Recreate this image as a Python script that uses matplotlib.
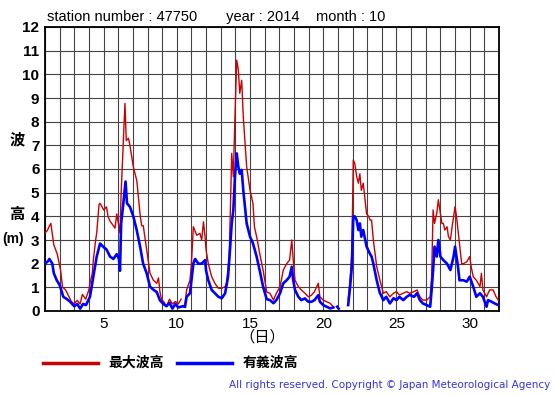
import matplotlib
matplotlib.use('Agg')
import matplotlib.pyplot as plt
import numpy as np

plt.rcParams['font.family'] = ['Liberation Sans', 'Noto Sans CJK JP', 'DejaVu Sans']

nan = np.nan

# max wave height (m); day of month as float
day_max = [1.0, 1.16, 1.3, 1.4, 1.6, 1.84, 2.07, 2.2, 2.4, 2.64, 2.8, 2.98, 3.2, 3.4, 3.55, 3.78,
           4.0, 4.07, 4.23, 4.3, 4.46, 4.53, 4.69, 4.76, 4.9, 5.0, 5.2, 5.3, 5.44, 5.67, 5.78, 5.9,
           6.12, 6.2, 6.35, 6.46, 6.55, 6.7, 6.8, 6.9, 7.03, 7.27, 7.38, 7.49, 7.6, 7.71, 7.94,
           8.05, 8.17, 8.4, 8.63, 8.75, 8.85, 8.95, 9.1, 9.3, 9.5, 9.7, 9.9, 10.1, 10.3, 10.4,
           10.56, 10.67, 10.9, 11.0, 11.13, 11.36, 11.58, 11.7, 11.82, 11.93, 12.0, 12.15, 12.38,
           12.6, 12.84, 13.07, 13.3, 13.4, 13.58, 13.75, 13.86, 13.97, 14.09, 14.2, 14.3, 14.43,
           14.54, 14.65, 14.77, 15.0, 15.2, 15.3, 15.45, 15.7, 15.9, 16.14, 16.36, 16.6, 16.8,
           17.05, 17.27, 17.5, 17.7, 17.85, 17.95, 18.07, 18.3, 18.5, 18.75, 18.98, 19.2, 19.4,
           19.66, 19.77, 20.0, 20.23, 20.46, 20.69, 20.8, 21.7, 21.83, 21.95, 22.05, 22.15, 22.28,
           22.4, 22.5, 22.6, 22.73, 22.96, 23.1, 23.2, 23.3, 23.42, 23.65, 23.87, 24.0, 24.1,
           24.3, 24.55, 24.8, 25.0, 25.2, 25.46, 25.7, 25.9, 26.2, 26.4, 26.6, 26.8, 27.06, 27.3,
           27.4, 27.5, 27.6, 27.75, 27.86, 28.0, 28.1, 28.2, 28.3, 28.45, 28.55, 28.68, 28.8,
           28.9, 29.0, 29.1, 29.2, 29.3, 29.45, 29.56, 29.8, 30.0, 30.1, 30.24, 30.45, 30.7,
           30.8, 30.9, 31.15, 31.36, 31.6, 31.8, 31.95]
wave_max = [3.3, 3.4, 3.6, 3.7, 2.8, 2.4, 1.7, 1.0, 0.9, 0.6, 0.4, 0.3, 0.45, 0.3, 0.7, 0.5,
            0.9, 1.17, 1.6, 2.15, 3.0, 3.3, 4.5, 4.55, 4.4, 4.27, 4.4, 4.0, 3.8, 3.6, 3.5, 4.1,
            3.3, 5.0, 7.2, 8.77, 7.2, 7.3, 7.0, 6.6, 6.1, 5.5, 4.8, 4.1, 3.6, 3.6, 2.6,
            2.15, 1.6, 1.3, 1.17, 1.4, 0.8, 0.5, 0.4, 0.2, 0.5, 0.3, 0.4, 0.3, 0.5, nan,
            0.3, 0.89, 1.3, 2.0, 3.56, 3.2, 3.28, 3.0, 3.77, 3.14, 2.58, 2.0, 1.45,
            1.17, 0.96, 0.96, 1.03, 1.2, 2.3, 6.66, 5.67, 8.2, 10.6, 10.2, 9.2, 9.75,
            8.2, 7.2, 6.1, 5.1, 4.55, 3.56, 3.14, 2.3, 1.7, 0.8, 0.75, 0.46, 0.75,
            1.03, 1.73, 2.0, 2.15, 3.0, 2.15, 1.3, 1.03, 0.89, 0.75, 0.6, 0.67, 0.82,
            1.17, 0.6, 0.46, 0.39, 0.33, 0.18, nan, 0.46, 1.3, 2.4, 6.38, 6.24, 5.68,
            5.4, 5.8, 5.1, 5.4, 4.1, 4.0, 3.84, 3.84, 3.0, 1.87, 1.3, 1.0, 0.75,
            0.82, 0.6, 0.75, 0.82, 0.68, 0.75, 0.82, 0.75, 0.82, 0.89, 0.6, 0.46, 0.46, 0.6,
            1.45, 4.27, 3.7, 4.13, 4.7, 4.13, 3.7, 3.7, 3.42, 3.56, 3.14, 3.0, 3.56,
            3.99, 4.41, 3.99, 3.42, 2.86, 2.0, 2.0, 2.08, 2.3, 1.87, 1.45, 1.3, 1.03,
            1.59, 0.89, 0.6, 0.89, 0.89, 0.6, 0.46]

# significant wave height (m)
day_sig = [1.0, 1.2, 1.3, 1.5, 1.6, 1.8, 2.0, 2.25, 2.5, 2.7, 3.0, 3.2, 3.4, 3.6, 3.8, 4.07,
           4.3, 4.53, 4.76, 5.0, 5.2, 5.44, 5.67, 5.9, 6.05, 6.12, 6.2, 6.35, 6.5, 6.6, 6.8,
           7.03, 7.27, 7.5, 7.7, 7.94, 8.17, 8.4, 8.63, 8.85, 9.08, 9.3, 9.5, 9.7, 9.9, 10.1,
           10.4, 10.45, 10.56, 10.67, 10.9, 11.13, 11.25, 11.47, 11.7, 11.93, 12.0, 12.15,
           12.38, 12.6, 12.84, 13.07, 13.3, 13.5, 13.63, 13.75, 13.86, 13.97, 14.09, 14.2,
           14.3, 14.43, 14.54, 14.77, 15.0, 15.2, 15.45, 15.7, 15.9, 16.14, 16.36, 16.6, 16.8,
           17.05, 17.27, 17.5, 17.7, 17.85, 17.95, 18.07, 18.3, 18.5, 18.75, 18.98, 19.2,
           19.4, 19.66, 19.77, 20.0, 20.23, 20.46, 20.69, 20.75, 20.95, 21.05, 21.1, 21.7,
           21.83, 21.95, 22.05, 22.15, 22.28, 22.4, 22.5, 22.6, 22.73, 22.96, 23.2, 23.3,
           23.42, 23.65, 23.87, 24.0, 24.1, 24.3, 24.55, 24.8, 25.0, 25.2, 25.46, 25.7, 25.9,
           26.2, 26.4, 26.6, 26.8, 27.06, 27.3, 27.4, 27.5, 27.6, 27.75, 27.86, 28.0, 28.2,
           28.45, 28.68, 28.9, 29.0, 29.1, 29.2, 29.3, 29.56, 29.8, 30.0, 30.24, 30.45, 30.7,
           30.9, 31.15, 31.25, 31.5, 31.7, 31.95]
wave_sig = [2.0, 2.1, 2.2, 2.0, 1.6, 1.3, 1.1, 0.6, 0.5, 0.4, 0.2, 0.3, 0.1, 0.3, 0.25, 0.6,
            1.45, 2.3, 2.85, 2.7, 2.6, 2.3, 2.2, 2.4, 2.2, 1.7, 3.7, 4.55, 5.47, 4.55, 4.4,
            4.0, 3.4, 2.7, 2.0, 1.6, 1.03, 0.9, 0.8, 0.45, 0.3, 0.2, 0.35, 0.1, 0.3, 0.15,
            0.2, nan, 0.18, 0.6, 0.75, 2.0, 2.2, 2.0, 2.0, 2.15, 1.7, 1.3,
            0.89, 0.75, 0.6, 0.54, 0.75, 1.45, 2.58, 3.7, 4.27, 5.67, 6.66, 6.1,
            5.8, 5.96, 5.1, 3.7, 3.14, 2.86, 2.3, 1.6, 1.0, 0.5, 0.46, 0.33, 0.46,
            0.75, 1.17, 1.3, 1.45, 1.87, 1.3, 0.89, 0.6, 0.46, 0.53, 0.39, 0.39,
            0.46, 0.67, 0.39, 0.25, 0.18, 0.11, 0.15, nan, 0.18, 0.1, nan, 0.25,
            1.0, 1.87, 3.99, 4.0, 3.84, 3.42, 3.7, 3.14, 3.42, 2.72, 2.4, 2.3,
            2.0, 1.3, 0.75, 0.6, 0.46, 0.6, 0.32, 0.54, 0.46, 0.6, 0.46, 0.6, 0.68,
            0.6, 0.75, 0.46, 0.32, 0.25, 0.18, 0.89, 1.73, 2.72, 2.3, 3.0, 2.3, 2.15,
            2.0, 1.73, 2.3, 2.72, 2.3, 1.87, 1.3, 1.3, 1.24, 1.45, 1.03, 0.6, 0.75,
            0.6, 0.18, 0.46, 0.39, 0.32, 0.25]

station = 47750
year = 2014
month = 10
legend_names = ['最大波高', '有義波高']

fig = plt.figure(figsize=(5.55, 3.95), dpi=100)
ax = fig.add_axes([45/555, 84/395, 454/555, 284/395])

ax.plot(day_max, wave_max, color='#cc0000', lw=1.0, zorder=3)
ax.plot(day_sig, wave_sig, color='#0000ff', lw=1.9, zorder=4)

ax.set_xlim(1, 32)
ax.set_ylim(0, 12)
ax.set_xticks(np.arange(1, 33))
ax.set_xticklabels([str(d) if d % 5 == 0 else '' for d in range(1, 33)], fontsize=11)
ax.set_yticks(np.arange(0, 13))
ax.set_yticklabels([str(v) for v in range(13)], fontsize=11, fontweight='bold')
ax.tick_params(length=0, pad=4)
ax.grid(True, color='#444444', lw=0.8)
ax.set_axisbelow(True)
for s in ax.spines.values():
    s.set_linewidth(1.3)

fig.text(47/555, 1 - 17/395, 'station number : %d       year : %d    month : %d' % (station, year, month),
         fontsize=10.5, va='center', ha='left')

# y label pieces
fig.text(17/555, 1 - 140/395, '波', fontsize=11, fontweight='bold', ha='center', va='center')
fig.text(17/555, 1 - 215/395, '高', fontsize=11, fontweight='bold', ha='center', va='center')
fig.text(2/555, 1 - 239/395, '(m)', fontsize=10, fontweight='bold', ha='left', va='center')

fig.text(262/555, 1 - 337/395, '（日）', fontsize=11, ha='center', va='center')

# legend
fig.add_artist(plt.Line2D([43/555, 98/555], [1 - 363/395] * 2, color='#cc0000', lw=2.5))
fig.text(108/555, 1 - 363/395, legend_names[0], fontsize=10, fontweight='bold', va='center')
fig.add_artist(plt.Line2D([177/555, 232/555], [1 - 363/395] * 2, color='#0000ff', lw=2.5))
fig.text(243/555, 1 - 363/395, legend_names[1], fontsize=10, fontweight='bold', va='center')

fig.text(550/555, 1 - 385/395, 'All rights reserved. Copyright © Japan Meteorological Agency',
         fontsize=7.5, color='#3333dd', ha='right', va='center', family='DejaVu Sans')

fig.savefig('out.png', dpi=100)
